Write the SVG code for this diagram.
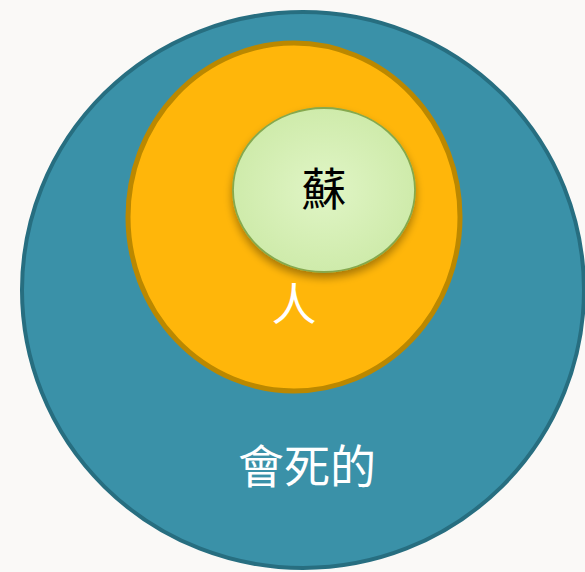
<svg xmlns="http://www.w3.org/2000/svg" width="585" height="572" viewBox="0 0 585 572">
  <style>
    .lbl { font-family: "Noto Sans CJK TC", "Noto Sans CJK SC", sans-serif; text-anchor: middle; }
  </style>
  <defs>
    <radialGradient id="gGreen" cx="50%" cy="50%" r="55%">
      <stop offset="0" stop-color="#e0f5c6"/>
      <stop offset="1" stop-color="#cdeaa8"/>
    </radialGradient>
    <filter id="shadow" x="-20%" y="-20%" width="140%" height="150%">
      <feGaussianBlur in="SourceAlpha" stdDeviation="4"/>
      <feOffset dx="0" dy="5" result="b"/>
      <feComponentTransfer><feFuncA type="linear" slope="0.35"/></feComponentTransfer>
      <feMerge><feMergeNode/><feMergeNode in="SourceGraphic"/></feMerge>
    </filter>
  </defs>
  <rect width="585" height="572" fill="#faf9f7"/>
  <g id="mortal">
    <ellipse cx="303" cy="290" rx="281" ry="278" fill="#3a91a8" stroke="#276e80" stroke-width="4"/>
    <text class="lbl" x="307" y="483" font-size="46" fill="#ffffff">會死的</text>
  </g>
  <g id="human">
    <ellipse cx="294" cy="217" rx="166" ry="174" fill="#ffb60a" stroke="#bb8800" stroke-width="5"/>
    <text class="lbl" x="294" y="321" font-size="45" fill="#ffffff">人</text>
  </g>
  <g id="su">
    <ellipse cx="324" cy="190" rx="91" ry="82" fill="url(#gGreen)" stroke="#86a94e" stroke-width="1.8" filter="url(#shadow)"/>
    <text class="lbl" x="324" y="206" font-size="45" fill="#000000">蘇</text>
  </g>
  <g id="connectors"/>
</svg>
